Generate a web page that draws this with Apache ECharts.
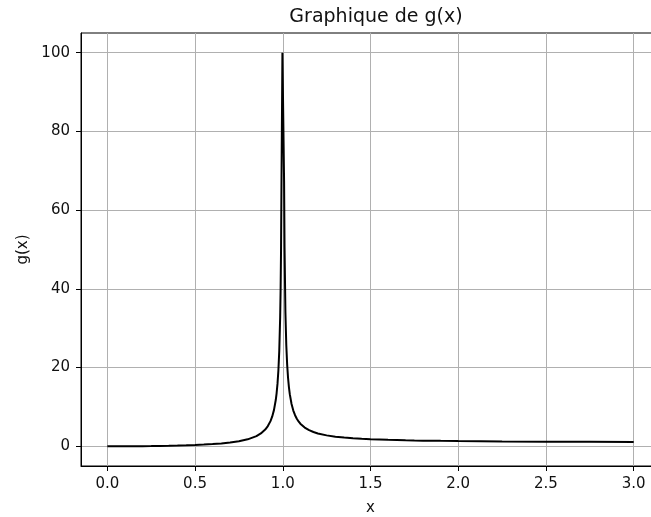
<!DOCTYPE html>
<html><head><meta charset="utf-8">
<script src="https://cdn.jsdelivr.net/npm/echarts@6/dist/echarts.min.js"></script>
<style>html,body{margin:0;padding:0;background:#fff;overflow:hidden}#c{width:660px;height:517px}</style>
</head><body><div id="c"></div>
<script>
const xValues = [0, 0.05, 0.1, 0.15, 0.2, 0.25, 0.3, 0.35, 0.4, 0.45, 0.5, 0.55, 0.6, 0.65, 0.7, 0.75, 0.8, 0.85, 0.875, 0.9, 0.915, 0.93, 0.94, 0.95, 0.96, 0.965, 0.97, 0.975, 0.98, 0.985, 0.9875, 0.99, 0.9925, 0.998, 1.0075, 1.01, 1.015, 1.02, 1.025, 1.03, 1.035, 1.04, 1.05, 1.06, 1.07, 1.08, 1.09, 1.1, 1.125, 1.15, 1.175, 1.2, 1.25, 1.3, 1.35, 1.4, 1.45, 1.5, 1.6, 1.7, 1.75, 1.8, 1.9, 2.0, 2.25, 2.5, 2.75, 3.0];
const gValues = [0, 0.0025, 0.01, 0.023, 0.042, 0.067, 0.099, 0.14, 0.19, 0.254, 0.333, 0.434, 0.563, 0.732, 0.961, 1.286, 1.778, 2.604, 3.267, 4.263, 5.143, 6.40, 7.59, 9.26, 11.76, 13.54, 15.92, 19.25, 24.25, 32.58, 39.25, 49.25, 65.9, 100, 67.4, 50.75, 34.09, 25.75, 20.75, 17.42, 15.04, 13.25, 10.76, 9.09, 7.90, 7.01, 6.32, 5.76, 4.765, 4.10, 3.627, 3.27, 2.778, 2.45, 2.216, 2.04, 1.907, 1.8, 1.641, 1.529, 1.485, 1.446, 1.383, 1.333, 1.246, 1.19, 1.152, 1.125];
const xTicks = [0, 0.5, 1.0, 1.5, 2.0, 2.5, 3.0];
const yTicks = [0, 20, 40, 60, 80, 100];

const chart = echarts.init(document.getElementById('c'), null, {renderer: 'canvas'});
const font = 'DejaVu Sans';
chart.setOption({
  animation: false,
  backgroundColor: '#fff',
  title: {
    text: 'Graphique de g(x)', left: 371, top: 3, textAlign: 'center',
    textStyle: {fontFamily: font, fontSize: 19, fontWeight: 'normal', color: '#111'}
  },
  grid: {left: 81, top: 33, right: 0, bottom: 51, show: true, borderColor: '#000', borderWidth: 1, backgroundColor: 'transparent', containLabel: false, outerBoundsMode: 'none'},
  xAxis: {
    type: 'value', min: -0.15, max: 3.15,
    name: 'x', nameLocation: 'middle', nameGap: 35,
    nameTextStyle: {fontFamily: font, fontSize: 15, color: '#111'},
    axisLine: {show: true, onZero: false, lineStyle: {color: '#000', width: 1}},
    axisTick: {show: true, length: 5, customValues: xTicks, lineStyle: {color: '#000'}},
    axisLabel: {customValues: xTicks, fontFamily: font, fontSize: 15, color: '#111', margin: 11, formatter: v => v.toFixed(1)},
    splitLine: {show: true, lineStyle: {color: '#b0b0b0', width: 1}}
  },
  yAxis: {
    type: 'value', min: -5, max: 105,
    name: 'g(x)', nameLocation: 'middle', nameGap: 49, nameRotate: 90,
    nameTextStyle: {fontFamily: font, fontSize: 15, color: '#111'},
    axisLine: {show: true, onZero: false, lineStyle: {color: '#000', width: 1}},
    axisTick: {show: true, length: 5, customValues: yTicks, lineStyle: {color: '#000'}},
    axisLabel: {customValues: yTicks, fontFamily: font, fontSize: 15, color: '#111', margin: 11},
    splitLine: {show: true, lineStyle: {color: '#b0b0b0', width: 1}}
  },
  series: [{
    type: 'line', data: xValues.map((x, i) => [x, gValues[i]]),
    showSymbol: false, symbol: 'none', clip: true,
    lineStyle: {color: '#000', width: 2}
  }]
});
</script></body></html>
